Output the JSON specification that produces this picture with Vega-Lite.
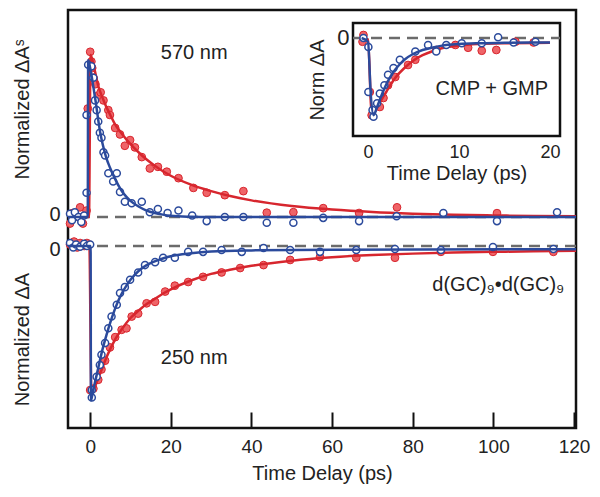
{
"$schema":"https://vega.github.io/schema/vega-lite/v6.json",
"width":508,"height":418,
"autosize":"none",
"padding":{"left":68,"top":10,"right":24,"bottom":69},
"config":{"view":{"stroke":"#111","strokeWidth":2.5},"axis":{"labelFont":"Liberation Sans","titleFont":"Liberation Sans","labelColor":"#222","titleColor":"#222","titleFontWeight":"normal","grid":false,"labelFontSize":19,"titleFontSize":20,"labelFlush":false},"text":{"font":"Liberation Sans"}},
"datasets":{
"points":[
{"panel":"570 nm","series":"A","t":-5,"v":-0.04},{"panel":"570 nm","series":"A","t":-4.3,"v":0.025},{"panel":"570 nm","series":"A","t":-2.9,"v":0},{"panel":"570 nm","series":"A","t":-2.5,"v":0.06},{"panel":"570 nm","series":"A","t":-1.8,"v":-0.04},{"panel":"570 nm","series":"A","t":-0.9,"v":0.04},{"panel":"570 nm","series":"A","t":-0.6,"v":0.67},{"panel":"570 nm","series":"A","t":0,"v":1.02},{"panel":"570 nm","series":"A","t":0.3,"v":0.96},{"panel":"570 nm","series":"A","t":0.5,"v":0.92},{"panel":"570 nm","series":"A","t":0.8,"v":0.86},{"panel":"570 nm","series":"A","t":1.3,"v":0.82},{"panel":"570 nm","series":"A","t":2.0,"v":0.75},{"panel":"570 nm","series":"A","t":2.6,"v":0.77},{"panel":"570 nm","series":"A","t":3.3,"v":0.72},{"panel":"570 nm","series":"A","t":4.5,"v":0.66},{"panel":"570 nm","series":"A","t":4.9,"v":0.63},{"panel":"570 nm","series":"A","t":6.2,"v":0.55},{"panel":"570 nm","series":"A","t":7.4,"v":0.51},{"panel":"570 nm","series":"A","t":8.6,"v":0.44},{"panel":"570 nm","series":"A","t":9.9,"v":0.475},{"panel":"570 nm","series":"A","t":11.1,"v":0.43},{"panel":"570 nm","series":"A","t":12.8,"v":0.37},{"panel":"570 nm","series":"A","t":14.8,"v":0.30},{"panel":"570 nm","series":"A","t":16.8,"v":0.31},{"panel":"570 nm","series":"A","t":19,"v":0.28},{"panel":"570 nm","series":"A","t":21.9,"v":0.24},{"panel":"570 nm","series":"A","t":25.6,"v":0.18},{"panel":"570 nm","series":"A","t":28.9,"v":0.15},{"panel":"570 nm","series":"A","t":33.4,"v":0.135},{"panel":"570 nm","series":"A","t":38,"v":0.16},{"panel":"570 nm","series":"A","t":43.8,"v":0.027},{"panel":"570 nm","series":"A","t":50.4,"v":0.03},{"panel":"570 nm","series":"A","t":57.8,"v":0.055},{"panel":"570 nm","series":"A","t":66.7,"v":0.025},{"panel":"570 nm","series":"A","t":76.1,"v":0.06},{"panel":"570 nm","series":"A","t":100.9,"v":0.024},
{"panel":"570 nm","series":"B","t":-5,"v":0.02},{"panel":"570 nm","series":"B","t":-4.5,"v":-0.02},{"panel":"570 nm","series":"B","t":-3.8,"v":0.03},{"panel":"570 nm","series":"B","t":-2.9,"v":0},{"panel":"570 nm","series":"B","t":-2.2,"v":-0.03},{"panel":"570 nm","series":"B","t":-1.5,"v":0.01},{"panel":"570 nm","series":"B","t":-0.9,"v":0.15},{"panel":"570 nm","series":"B","t":-0.9,"v":0.63},{"panel":"570 nm","series":"B","t":-0.5,"v":0.94},{"panel":"570 nm","series":"B","t":0.3,"v":0.93},{"panel":"570 nm","series":"B","t":0.8,"v":0.86},{"panel":"570 nm","series":"B","t":1.2,"v":0.72},{"panel":"570 nm","series":"B","t":1.6,"v":0.66},{"panel":"570 nm","series":"B","t":2.0,"v":0.59},{"panel":"570 nm","series":"B","t":2.4,"v":0.52},{"panel":"570 nm","series":"B","t":2.8,"v":0.49},{"panel":"570 nm","series":"B","t":3.3,"v":0.40},{"panel":"570 nm","series":"B","t":3.7,"v":0.38},{"panel":"570 nm","series":"B","t":4.5,"v":0.27},{"panel":"570 nm","series":"B","t":5.7,"v":0.22},{"panel":"570 nm","series":"B","t":6.6,"v":0.27},{"panel":"570 nm","series":"B","t":7.4,"v":0.155},{"panel":"570 nm","series":"B","t":8.6,"v":0.095},{"panel":"570 nm","series":"B","t":10.3,"v":0.085},{"panel":"570 nm","series":"B","t":12.8,"v":0.095},{"panel":"570 nm","series":"B","t":14.8,"v":0.03},{"panel":"570 nm","series":"B","t":16.8,"v":0.05},{"panel":"570 nm","series":"B","t":19.2,"v":0.025},{"panel":"570 nm","series":"B","t":21.9,"v":0.04},{"panel":"570 nm","series":"B","t":25.3,"v":0.01},{"panel":"570 nm","series":"B","t":28.9,"v":-0.025},{"panel":"570 nm","series":"B","t":33.4,"v":0},{"panel":"570 nm","series":"B","t":38,"v":0},{"panel":"570 nm","series":"B","t":43.8,"v":-0.035},{"panel":"570 nm","series":"B","t":50.4,"v":-0.035},{"panel":"570 nm","series":"B","t":57.8,"v":-0.005},{"panel":"570 nm","series":"B","t":66.7,"v":-0.025},{"panel":"570 nm","series":"B","t":76,"v":0.005},{"panel":"570 nm","series":"B","t":87.6,"v":0.025},{"panel":"570 nm","series":"B","t":100.9,"v":-0.025},{"panel":"570 nm","series":"B","t":115.8,"v":0.03},
{"panel":"250 nm","series":"A","t":-5,"v":0.01},{"panel":"250 nm","series":"A","t":-4,"v":0.03},{"panel":"250 nm","series":"A","t":-3.2,"v":-0.01},{"panel":"250 nm","series":"A","t":-2.5,"v":0.02},{"panel":"250 nm","series":"A","t":-1.5,"v":0},{"panel":"250 nm","series":"A","t":-0.8,"v":0.02},{"panel":"250 nm","series":"A","t":0,"v":-0.98},{"panel":"250 nm","series":"A","t":0.8,"v":-0.97},{"panel":"250 nm","series":"A","t":2,"v":-0.91},{"panel":"250 nm","series":"A","t":2.8,"v":-0.84},{"panel":"250 nm","series":"A","t":3.7,"v":-0.78},{"panel":"250 nm","series":"A","t":4.9,"v":-0.69},{"panel":"250 nm","series":"A","t":6.2,"v":-0.62},{"panel":"250 nm","series":"A","t":7.8,"v":-0.57},{"panel":"250 nm","series":"A","t":9,"v":-0.56},{"panel":"250 nm","series":"A","t":10.3,"v":-0.48},{"panel":"250 nm","series":"A","t":11.9,"v":-0.46},{"panel":"250 nm","series":"A","t":14,"v":-0.39},{"panel":"250 nm","series":"A","t":16.1,"v":-0.38},{"panel":"250 nm","series":"A","t":18.6,"v":-0.31},{"panel":"250 nm","series":"A","t":21,"v":-0.27},{"panel":"250 nm","series":"A","t":24.3,"v":-0.245},{"panel":"250 nm","series":"A","t":28,"v":-0.21},{"panel":"250 nm","series":"A","t":32.6,"v":-0.18},{"panel":"250 nm","series":"A","t":37.2,"v":-0.15},{"panel":"250 nm","series":"A","t":43,"v":-0.13},{"panel":"250 nm","series":"A","t":49.6,"v":-0.095},{"panel":"250 nm","series":"A","t":57,"v":-0.075},{"panel":"250 nm","series":"A","t":66,"v":-0.08},{"panel":"250 nm","series":"A","t":75.6,"v":-0.08},{"panel":"250 nm","series":"A","t":87,"v":-0.04},{"panel":"250 nm","series":"A","t":99.9,"v":-0.04},{"panel":"250 nm","series":"A","t":114.9,"v":-0.04},
{"panel":"250 nm","series":"B","t":-5,"v":0.02},{"panel":"250 nm","series":"B","t":-4.2,"v":-0.01},{"panel":"250 nm","series":"B","t":-3.5,"v":0.01},{"panel":"250 nm","series":"B","t":-2.5,"v":-0.005},{"panel":"250 nm","series":"B","t":-1.5,"v":0.015},{"panel":"250 nm","series":"B","t":-0.8,"v":0},{"panel":"250 nm","series":"B","t":0,"v":0.01},{"panel":"250 nm","series":"B","t":0.4,"v":-0.98},{"panel":"250 nm","series":"B","t":0.4,"v":-1.03},{"panel":"250 nm","series":"B","t":1.6,"v":-0.89},{"panel":"250 nm","series":"B","t":2.4,"v":-0.81},{"panel":"250 nm","series":"B","t":2.8,"v":-0.74},{"panel":"250 nm","series":"B","t":3.7,"v":-0.66},{"panel":"250 nm","series":"B","t":4.5,"v":-0.56},{"panel":"250 nm","series":"B","t":5.3,"v":-0.48},{"panel":"250 nm","series":"B","t":6.6,"v":-0.40},{"panel":"250 nm","series":"B","t":7.4,"v":-0.32},{"panel":"250 nm","series":"B","t":8.6,"v":-0.28},{"panel":"250 nm","series":"B","t":9.9,"v":-0.23},{"panel":"250 nm","series":"B","t":11.9,"v":-0.18},{"panel":"250 nm","series":"B","t":13.6,"v":-0.13},{"panel":"250 nm","series":"B","t":16.1,"v":-0.11},{"panel":"250 nm","series":"B","t":18.1,"v":-0.08},{"panel":"250 nm","series":"B","t":21,"v":-0.08},{"panel":"250 nm","series":"B","t":24.3,"v":-0.04},{"panel":"250 nm","series":"B","t":28,"v":-0.04},{"panel":"250 nm","series":"B","t":32.6,"v":-0.027},{"panel":"250 nm","series":"B","t":37.6,"v":-0.04},{"panel":"250 nm","series":"B","t":43,"v":-0.014},{"panel":"250 nm","series":"B","t":49.6,"v":-0.027},{"panel":"250 nm","series":"B","t":57,"v":-0.04},{"panel":"250 nm","series":"B","t":66,"v":-0.027},{"panel":"250 nm","series":"B","t":75.6,"v":-0.02},{"panel":"250 nm","series":"B","t":87,"v":-0.027},{"panel":"250 nm","series":"B","t":99.9,"v":-0.007},{"panel":"250 nm","series":"B","t":114.9,"v":-0.02},
{"panel":"CMP + GMP","series":"A","t":-0.5,"v":0.04},{"panel":"CMP + GMP","series":"A","t":-0.6,"v":-0.05},{"panel":"CMP + GMP","series":"A","t":0.2,"v":-0.72},{"panel":"CMP + GMP","series":"A","t":0.4,"v":-1.03},{"panel":"CMP + GMP","series":"A","t":1.3,"v":-0.92},{"panel":"CMP + GMP","series":"A","t":1.7,"v":-0.80},{"panel":"CMP + GMP","series":"A","t":2.2,"v":-0.63},{"panel":"CMP + GMP","series":"A","t":3.0,"v":-0.52},{"panel":"CMP + GMP","series":"A","t":4.4,"v":-0.36},{"panel":"CMP + GMP","series":"A","t":5.2,"v":-0.29},{"panel":"CMP + GMP","series":"A","t":7.5,"v":-0.16},{"panel":"CMP + GMP","series":"A","t":9.6,"v":-0.093},{"panel":"CMP + GMP","series":"A","t":11,"v":-0.13},{"panel":"CMP + GMP","series":"A","t":12.5,"v":-0.17},{"panel":"CMP + GMP","series":"A","t":14.1,"v":-0.16},{"panel":"CMP + GMP","series":"A","t":16.2,"v":-0.05},{"panel":"CMP + GMP","series":"A","t":18.2,"v":-0.06},
{"panel":"CMP + GMP","series":"B","t":-0.5,"v":0},{"panel":"CMP + GMP","series":"B","t":0.04,"v":-0.12},{"panel":"CMP + GMP","series":"B","t":0.04,"v":-0.72},{"panel":"CMP + GMP","series":"B","t":0.5,"v":-0.96},{"panel":"CMP + GMP","series":"B","t":0.6,"v":-1.05},{"panel":"CMP + GMP","series":"B","t":1.0,"v":-0.87},{"panel":"CMP + GMP","series":"B","t":1.3,"v":-0.74},{"panel":"CMP + GMP","series":"B","t":1.8,"v":-0.63},{"panel":"CMP + GMP","series":"B","t":2.2,"v":-0.49},{"panel":"CMP + GMP","series":"B","t":2.8,"v":-0.40},{"panel":"CMP + GMP","series":"B","t":3.5,"v":-0.29},{"panel":"CMP + GMP","series":"B","t":5.2,"v":-0.18},{"panel":"CMP + GMP","series":"B","t":6.6,"v":-0.093},{"panel":"CMP + GMP","series":"B","t":7.5,"v":-0.18},{"panel":"CMP + GMP","series":"B","t":8.6,"v":-0.093},{"panel":"CMP + GMP","series":"B","t":10.3,"v":-0.07},{"panel":"CMP + GMP","series":"B","t":12.5,"v":-0.07},{"panel":"CMP + GMP","series":"B","t":14.3,"v":0.01},{"panel":"CMP + GMP","series":"B","t":16,"v":-0.06},{"panel":"CMP + GMP","series":"B","t":18.4,"v":-0.05}
],
"fits":[
{"panel":"570 nm","series":"A","t":-5.5,"v":0},{"panel":"570 nm","series":"A","t":-0.3,"v":0},{"panel":"570 nm","series":"A","t":0.1,"v":1.0},{"panel":"570 nm","series":"A","t":1,"v":0.92},{"panel":"570 nm","series":"A","t":2,"v":0.81},{"panel":"570 nm","series":"A","t":3,"v":0.74},{"panel":"570 nm","series":"A","t":4,"v":0.68},{"panel":"570 nm","series":"A","t":5,"v":0.63},{"panel":"570 nm","series":"A","t":6,"v":0.58},{"panel":"570 nm","series":"A","t":8,"v":0.51},{"panel":"570 nm","series":"A","t":10,"v":0.45},{"panel":"570 nm","series":"A","t":12,"v":0.40},{"panel":"570 nm","series":"A","t":14,"v":0.355},{"panel":"570 nm","series":"A","t":17,"v":0.30},{"panel":"570 nm","series":"A","t":20,"v":0.255},{"panel":"570 nm","series":"A","t":25,"v":0.2},{"panel":"570 nm","series":"A","t":30,"v":0.16},{"panel":"570 nm","series":"A","t":35,"v":0.128},{"panel":"570 nm","series":"A","t":40,"v":0.103},{"panel":"570 nm","series":"A","t":50,"v":0.068},{"panel":"570 nm","series":"A","t":60,"v":0.046},{"panel":"570 nm","series":"A","t":70,"v":0.031},{"panel":"570 nm","series":"A","t":80,"v":0.021},{"panel":"570 nm","series":"A","t":90,"v":0.014},{"panel":"570 nm","series":"A","t":100,"v":0.01},{"panel":"570 nm","series":"A","t":110,"v":0.007},{"panel":"570 nm","series":"A","t":120.5,"v":0.005},
{"panel":"570 nm","series":"B","t":-5.5,"v":0},{"panel":"570 nm","series":"B","t":-0.6,"v":0},{"panel":"570 nm","series":"B","t":-0.5,"v":0.97},{"panel":"570 nm","series":"B","t":0,"v":0.92},{"panel":"570 nm","series":"B","t":0.5,"v":0.85},{"panel":"570 nm","series":"B","t":1,"v":0.77},{"panel":"570 nm","series":"B","t":1.5,"v":0.69},{"panel":"570 nm","series":"B","t":2,"v":0.6},{"panel":"570 nm","series":"B","t":2.5,"v":0.52},{"panel":"570 nm","series":"B","t":3,"v":0.46},{"panel":"570 nm","series":"B","t":3.5,"v":0.41},{"panel":"570 nm","series":"B","t":4,"v":0.365},{"panel":"570 nm","series":"B","t":5,"v":0.3},{"panel":"570 nm","series":"B","t":6,"v":0.245},{"panel":"570 nm","series":"B","t":7,"v":0.195},{"panel":"570 nm","series":"B","t":8,"v":0.155},{"panel":"570 nm","series":"B","t":9,"v":0.125},{"panel":"570 nm","series":"B","t":10,"v":0.1},{"panel":"570 nm","series":"B","t":12,"v":0.065},{"panel":"570 nm","series":"B","t":14,"v":0.04},{"panel":"570 nm","series":"B","t":16,"v":0.025},{"panel":"570 nm","series":"B","t":18,"v":0.015},{"panel":"570 nm","series":"B","t":20,"v":0.008},{"panel":"570 nm","series":"B","t":25,"v":0.002},{"panel":"570 nm","series":"B","t":30,"v":0},{"panel":"570 nm","series":"B","t":120.5,"v":0},
{"panel":"250 nm","series":"A","t":-5.5,"v":0},{"panel":"250 nm","series":"A","t":-0.2,"v":0},{"panel":"250 nm","series":"A","t":0.3,"v":-1.0},{"panel":"250 nm","series":"A","t":1,"v":-0.97},{"panel":"250 nm","series":"A","t":2,"v":-0.9},{"panel":"250 nm","series":"A","t":3,"v":-0.83},{"panel":"250 nm","series":"A","t":4,"v":-0.76},{"panel":"250 nm","series":"A","t":5,"v":-0.70},{"panel":"250 nm","series":"A","t":6,"v":-0.645},{"panel":"250 nm","series":"A","t":8,"v":-0.56},{"panel":"250 nm","series":"A","t":10,"v":-0.49},{"panel":"250 nm","series":"A","t":12,"v":-0.44},{"panel":"250 nm","series":"A","t":14,"v":-0.395},{"panel":"250 nm","series":"A","t":16,"v":-0.36},{"panel":"250 nm","series":"A","t":18,"v":-0.325},{"panel":"250 nm","series":"A","t":20,"v":-0.295},{"panel":"250 nm","series":"A","t":25,"v":-0.235},{"panel":"250 nm","series":"A","t":30,"v":-0.19},{"panel":"250 nm","series":"A","t":35,"v":-0.16},{"panel":"250 nm","series":"A","t":40,"v":-0.135},{"panel":"250 nm","series":"A","t":50,"v":-0.1},{"panel":"250 nm","series":"A","t":60,"v":-0.077},{"panel":"250 nm","series":"A","t":70,"v":-0.062},{"panel":"250 nm","series":"A","t":80,"v":-0.052},{"panel":"250 nm","series":"A","t":90,"v":-0.045},{"panel":"250 nm","series":"A","t":100,"v":-0.04},{"panel":"250 nm","series":"A","t":110,"v":-0.036},{"panel":"250 nm","series":"A","t":120.5,"v":-0.033},
{"panel":"250 nm","series":"B","t":-5.5,"v":0},{"panel":"250 nm","series":"B","t":0.1,"v":0},{"panel":"250 nm","series":"B","t":0.2,"v":-1.05},{"panel":"250 nm","series":"B","t":0.6,"v":-1.0},{"panel":"250 nm","series":"B","t":1,"v":-0.95},{"panel":"250 nm","series":"B","t":2,"v":-0.83},{"panel":"250 nm","series":"B","t":3,"v":-0.71},{"panel":"250 nm","series":"B","t":4,"v":-0.61},{"panel":"250 nm","series":"B","t":5,"v":-0.52},{"panel":"250 nm","series":"B","t":6,"v":-0.44},{"panel":"250 nm","series":"B","t":7,"v":-0.37},{"panel":"250 nm","series":"B","t":8,"v":-0.315},{"panel":"250 nm","series":"B","t":9,"v":-0.27},{"panel":"250 nm","series":"B","t":10,"v":-0.23},{"panel":"250 nm","series":"B","t":12,"v":-0.17},{"panel":"250 nm","series":"B","t":14,"v":-0.13},{"panel":"250 nm","series":"B","t":16,"v":-0.105},{"panel":"250 nm","series":"B","t":18,"v":-0.085},{"panel":"250 nm","series":"B","t":20,"v":-0.07},{"panel":"250 nm","series":"B","t":25,"v":-0.05},{"panel":"250 nm","series":"B","t":30,"v":-0.038},{"panel":"250 nm","series":"B","t":40,"v":-0.03},{"panel":"250 nm","series":"B","t":60,"v":-0.025},{"panel":"250 nm","series":"B","t":120.5,"v":-0.022},
{"panel":"CMP + GMP","series":"A","t":-0.7,"v":0},{"panel":"CMP + GMP","series":"A","t":0,"v":-0.02},{"panel":"CMP + GMP","series":"A","t":0.4,"v":-1.0},{"panel":"CMP + GMP","series":"A","t":1,"v":-0.93},{"panel":"CMP + GMP","series":"A","t":1.5,"v":-0.82},{"panel":"CMP + GMP","series":"A","t":2,"v":-0.72},{"panel":"CMP + GMP","series":"A","t":2.5,"v":-0.62},{"panel":"CMP + GMP","series":"A","t":3,"v":-0.53},{"panel":"CMP + GMP","series":"A","t":4,"v":-0.4},{"panel":"CMP + GMP","series":"A","t":5,"v":-0.3},{"panel":"CMP + GMP","series":"A","t":6,"v":-0.23},{"panel":"CMP + GMP","series":"A","t":7,"v":-0.18},{"panel":"CMP + GMP","series":"A","t":8,"v":-0.14},{"panel":"CMP + GMP","series":"A","t":10,"v":-0.1},{"panel":"CMP + GMP","series":"A","t":12,"v":-0.08},{"panel":"CMP + GMP","series":"A","t":15,"v":-0.07},{"panel":"CMP + GMP","series":"A","t":20,"v":-0.065},
{"panel":"CMP + GMP","series":"B","t":-0.7,"v":0},{"panel":"CMP + GMP","series":"B","t":0,"v":-0.05},{"panel":"CMP + GMP","series":"B","t":0.3,"v":-0.75},{"panel":"CMP + GMP","series":"B","t":0.6,"v":-1.03},{"panel":"CMP + GMP","series":"B","t":1,"v":-0.92},{"panel":"CMP + GMP","series":"B","t":1.5,"v":-0.76},{"panel":"CMP + GMP","series":"B","t":2,"v":-0.62},{"panel":"CMP + GMP","series":"B","t":2.5,"v":-0.51},{"panel":"CMP + GMP","series":"B","t":3,"v":-0.42},{"panel":"CMP + GMP","series":"B","t":3.5,"v":-0.35},{"panel":"CMP + GMP","series":"B","t":4,"v":-0.29},{"panel":"CMP + GMP","series":"B","t":5,"v":-0.21},{"panel":"CMP + GMP","series":"B","t":6,"v":-0.16},{"panel":"CMP + GMP","series":"B","t":7,"v":-0.13},{"panel":"CMP + GMP","series":"B","t":8,"v":-0.105},{"panel":"CMP + GMP","series":"B","t":10,"v":-0.08},{"panel":"CMP + GMP","series":"B","t":12,"v":-0.07},{"panel":"CMP + GMP","series":"B","t":15,"v":-0.065},{"panel":"CMP + GMP","series":"B","t":20,"v":-0.06}
]
},
"layer":[
{"layer":[
 {"data":{"values":[{}]},"mark":{"type":"rule","stroke":"#6b6b6b","strokeWidth":2.5,"strokeDash":[11,7]},"encoding":{"y":{"datum":0,"type":"quantitative","scale":{"domain":[-1.302,1.278],"nice":false,"zero":false},"axis":{"orient":"left","values":[0],"labels":false,"domain":false,"ticks":false,"title":"Normalized ΔAˢ","titleAngle":-90,"titleX":-46,"titleY":99,"titleAlign":"center","titleBaseline":"middle"}}}},
 {"data":{"name":"points"},"transform":[{"filter":"datum.panel==='570 nm' && datum.series==='A'"}],"mark":{"type":"point","filled":true,"fill":"#EF6468","stroke":"#D8262E","strokeWidth":1,"size":60,"opacity":1},"encoding":{"x":{"field":"t","type":"quantitative","scale":{"domain":[-5.5,120.5],"nice":false,"zero":false},"axis":null},"y":{"field":"v","type":"quantitative","scale":{"domain":[-1.302,1.278],"nice":false,"zero":false}}}},
 {"data":{"name":"fits"},"transform":[{"filter":"datum.panel==='570 nm' && datum.series==='A'"}],"mark":{"type":"line","stroke":"#D7262E","strokeWidth":2.5,"interpolate":"monotone"},"encoding":{"x":{"field":"t","type":"quantitative","scale":{"domain":[-5.5,120.5],"nice":false,"zero":false},"axis":null},"y":{"field":"v","type":"quantitative","scale":{"domain":[-1.302,1.278],"nice":false,"zero":false}}}},
 {"data":{"name":"points"},"transform":[{"filter":"datum.panel==='570 nm' && datum.series==='B'"}],"mark":{"type":"point","filled":true,"fill":"#ffffff","stroke":"#2B4A9C","strokeWidth":1.5,"size":50,"opacity":1},"encoding":{"x":{"field":"t","type":"quantitative","scale":{"domain":[-5.5,120.5],"nice":false,"zero":false},"axis":null},"y":{"field":"v","type":"quantitative","scale":{"domain":[-1.302,1.278],"nice":false,"zero":false}}}},
 {"data":{"name":"fits"},"transform":[{"filter":"datum.panel==='570 nm' && datum.series==='B'"}],"mark":{"type":"line","stroke":"#2B4A9C","strokeWidth":2.5,"interpolate":"monotone"},"encoding":{"x":{"field":"t","type":"quantitative","scale":{"domain":[-5.5,120.5],"nice":false,"zero":false},"axis":null},"y":{"field":"v","type":"quantitative","scale":{"domain":[-1.302,1.278],"nice":false,"zero":false}}}},
 {"data":{"values":[{"label":"570 nm","t":25.8,"v":1.012,"a":"center"},{"label":"0","t":-8.7,"v":0.015,"a":"right"}]},"mark":{"type":"text","fontSize":20,"fill":"#222"},"encoding":{"x":{"field":"t","type":"quantitative","scale":{"domain":[-5.5,120.5],"nice":false,"zero":false},"axis":null},"y":{"field":"v","type":"quantitative","scale":{"domain":[-1.302,1.278],"nice":false,"zero":false}},"text":{"field":"label"},"align":{"field":"a","type":"nominal","scale":null}}}
]},
{"layer":[
 {"data":{"values":[{}]},"mark":{"type":"rule","stroke":"#6b6b6b","strokeWidth":2.5,"strokeDash":[11,7]},"encoding":{"y":{"datum":0,"type":"quantitative","scale":{"domain":[-1.238,1.605],"nice":false,"zero":false},"axis":{"orient":"left","values":[0],"labels":false,"domain":false,"ticks":false,"title":"Normalized ΔA","titleAngle":-90,"titleX":-46,"titleY":329,"titleAlign":"center","titleBaseline":"middle"}}}},
 {"data":{"name":"points"},"transform":[{"filter":"datum.panel==='250 nm' && datum.series==='A'"}],"mark":{"type":"point","filled":true,"fill":"#EF6468","stroke":"#D8262E","strokeWidth":1,"size":60,"opacity":1},"encoding":{"x":{"field":"t","type":"quantitative","scale":{"domain":[-5.5,120.5],"nice":false,"zero":false},"axis":{"orient":"bottom","values":[0,20,40,60,80,100,120],"domain":false,"tickSize":-16,"tickWidth":2,"tickColor":"#111","labelPadding":25,"title":"Time Delay (ps)","titlePadding":7}},"y":{"field":"v","type":"quantitative","scale":{"domain":[-1.238,1.605],"nice":false,"zero":false}}}},
 {"data":{"name":"fits"},"transform":[{"filter":"datum.panel==='250 nm' && datum.series==='A'"}],"mark":{"type":"line","stroke":"#D7262E","strokeWidth":2.5,"interpolate":"monotone"},"encoding":{"x":{"field":"t","type":"quantitative","scale":{"domain":[-5.5,120.5],"nice":false,"zero":false}},"y":{"field":"v","type":"quantitative","scale":{"domain":[-1.238,1.605],"nice":false,"zero":false}}}},
 {"data":{"name":"points"},"transform":[{"filter":"datum.panel==='250 nm' && datum.series==='B'"}],"mark":{"type":"point","filled":true,"fill":"#ffffff","stroke":"#2B4A9C","strokeWidth":1.5,"size":50,"opacity":1},"encoding":{"x":{"field":"t","type":"quantitative","scale":{"domain":[-5.5,120.5],"nice":false,"zero":false}},"y":{"field":"v","type":"quantitative","scale":{"domain":[-1.238,1.605],"nice":false,"zero":false}}}},
 {"data":{"name":"fits"},"transform":[{"filter":"datum.panel==='250 nm' && datum.series==='B'"}],"mark":{"type":"line","stroke":"#2B4A9C","strokeWidth":2.5,"interpolate":"monotone"},"encoding":{"x":{"field":"t","type":"quantitative","scale":{"domain":[-5.5,120.5],"nice":false,"zero":false}},"y":{"field":"v","type":"quantitative","scale":{"domain":[-1.238,1.605],"nice":false,"zero":false}}}},
 {"data":{"values":[{"label":"250 nm","t":25.8,"v":-0.762,"a":"center"},{"label":"d(GC)₉•d(GC)₉","t":101.2,"v":-0.265,"a":"center"},{"label":"0","t":-8.7,"v":-0.025,"a":"right"}]},"mark":{"type":"text","fontSize":20,"fill":"#222"},"encoding":{"x":{"field":"t","type":"quantitative","scale":{"domain":[-5.5,120.5],"nice":false,"zero":false}},"y":{"field":"v","type":"quantitative","scale":{"domain":[-1.238,1.605],"nice":false,"zero":false}},"text":{"field":"label"},"align":{"field":"a","type":"nominal","scale":null}}}
]},
{"layer":[
 {"data":{"values":[{}]},"mark":{"type":"rect","fill":"#ffffff","stroke":"#111","strokeWidth":2.5},"encoding":{"x":{"datum":-1.65,"type":"quantitative","scale":{"domain":[-1.65,21.1],"range":[285,492],"nice":false,"zero":false},"axis":{"orient":"bottom","offset":-292,"values":[0,5,10,15,20],"labelExpr":"datum.value % 10 === 0 ? datum.label : ''","domain":false,"tickSize":-12,"tickWidth":2,"tickColor":"#111","labelFontSize":18,"labelPadding":19,"title":"Time Delay (ps)","titlePadding":2}},"x2":{"datum":21.1},"y":{"datum":-1.307,"type":"quantitative","scale":{"domain":[-1.307,0.2],"range":[126,13],"nice":false,"zero":false},"axis":{"orient":"left","offset":-285,"values":[0],"format":"d","domain":false,"ticks":false,"labelFontSize":22,"labelPadding":4,"title":"Norm ΔA","titleAngle":-90,"titleX":-36,"titleAlign":"center","titleBaseline":"middle"}},"y2":{"datum":0.2}}},
 {"data":{"values":[{}]},"mark":{"type":"rule","stroke":"#6b6b6b","strokeWidth":2.5,"strokeDash":[11,7]},"encoding":{"x":{"datum":-1.65,"type":"quantitative","scale":{"domain":[-1.65,21.1],"range":[285,492],"nice":false,"zero":false}},"x2":{"datum":21.1},"y":{"datum":0,"type":"quantitative","scale":{"domain":[-1.307,0.2],"range":[126,13],"nice":false,"zero":false}}}},
 {"data":{"name":"points"},"transform":[{"filter":"datum.panel==='CMP + GMP' && datum.series==='A'"}],"mark":{"type":"point","filled":true,"fill":"#EF6468","stroke":"#D8262E","strokeWidth":1,"size":60,"opacity":1},"encoding":{"x":{"field":"t","type":"quantitative","scale":{"domain":[-1.65,21.1],"range":[285,492],"nice":false,"zero":false}},"y":{"field":"v","type":"quantitative","scale":{"domain":[-1.307,0.2],"range":[126,13],"nice":false,"zero":false}}}},
 {"data":{"name":"fits"},"transform":[{"filter":"datum.panel==='CMP + GMP' && datum.series==='A'"}],"mark":{"type":"line","stroke":"#D7262E","strokeWidth":2.5,"interpolate":"monotone"},"encoding":{"x":{"field":"t","type":"quantitative","scale":{"domain":[-1.65,21.1],"range":[285,492],"nice":false,"zero":false}},"y":{"field":"v","type":"quantitative","scale":{"domain":[-1.307,0.2],"range":[126,13],"nice":false,"zero":false}}}},
 {"data":{"name":"points"},"transform":[{"filter":"datum.panel==='CMP + GMP' && datum.series==='B'"}],"mark":{"type":"point","filled":true,"fill":"#ffffff","stroke":"#2B4A9C","strokeWidth":1.5,"size":50,"opacity":1},"encoding":{"x":{"field":"t","type":"quantitative","scale":{"domain":[-1.65,21.1],"range":[285,492],"nice":false,"zero":false}},"y":{"field":"v","type":"quantitative","scale":{"domain":[-1.307,0.2],"range":[126,13],"nice":false,"zero":false}}}},
 {"data":{"name":"fits"},"transform":[{"filter":"datum.panel==='CMP + GMP' && datum.series==='B'"}],"mark":{"type":"line","stroke":"#2B4A9C","strokeWidth":2.5,"interpolate":"monotone"},"encoding":{"x":{"field":"t","type":"quantitative","scale":{"domain":[-1.65,21.1],"range":[285,492],"nice":false,"zero":false}},"y":{"field":"v","type":"quantitative","scale":{"domain":[-1.307,0.2],"range":[126,13],"nice":false,"zero":false}}}},
 {"data":{"values":[{"label":"CMP + GMP","t":13.6,"v":-0.68}]},"mark":{"type":"text","fontSize":20,"fill":"#222"},"encoding":{"x":{"field":"t","type":"quantitative","scale":{"domain":[-1.65,21.1],"range":[285,492],"nice":false,"zero":false}},"y":{"field":"v","type":"quantitative","scale":{"domain":[-1.307,0.2],"range":[126,13],"nice":false,"zero":false}},"text":{"field":"label"}}}
]}
],
"resolve":{"scale":{"x":"independent","y":"independent"},"axis":{"x":"independent","y":"independent"}}
}
